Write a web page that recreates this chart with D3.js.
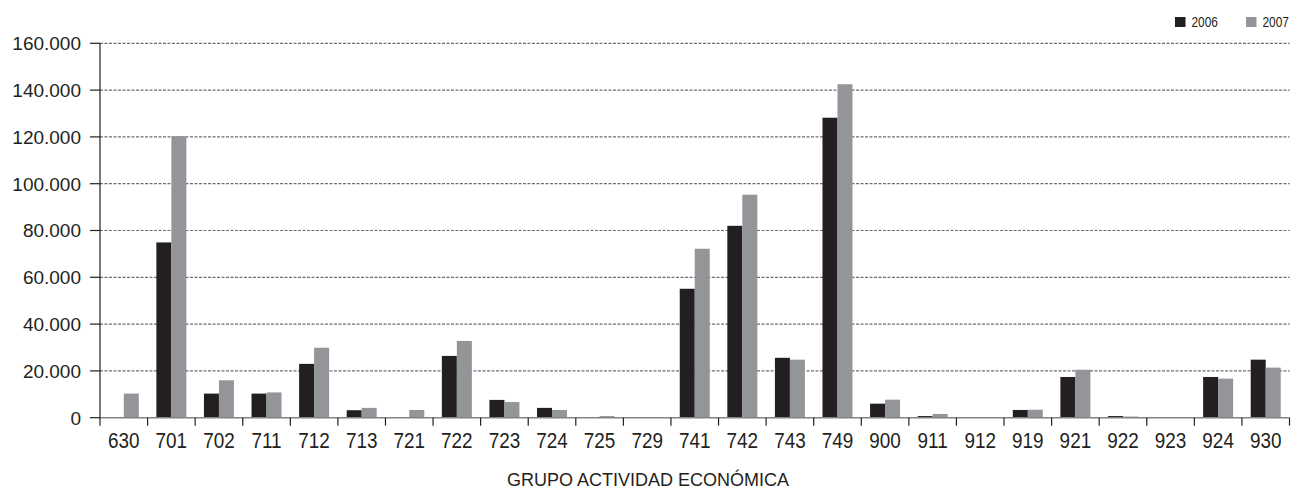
<!DOCTYPE html>
<html>
<head>
<meta charset="utf-8">
<script src="https://cdn.jsdelivr.net/npm/d3@7"></script>
<style>
  html, body { margin: 0; padding: 0; background: #fff; }
  svg { display: block; }
  .reg { font-family: "Liberation Sans", Arial, sans-serif; }
</style>
</head>
<body>
<svg id="chart" width="1291" height="490"></svg>
<script>
const categories = ["630","701","702","711","712","713","721","722","723","724","725","729","741","742","743","749","900","911","912","919","921","922","923","924","930"];
const seriesNames = ["2006", "2007"];
const values2006 = [0, 74900, 10300, 10300, 23000, 3200, 0, 26400, 7600, 4200, 0, 0, 55100, 82000, 25600, 128200, 6000, 700, 0, 3300, 17400, 700, 0, 17400, 24800];
const values2007 = [10300, 120300, 16000, 10800, 29900, 4200, 3300, 32800, 6700, 3300, 700, 0, 72200, 95300, 24800, 142500, 7700, 1600, 0, 3400, 20500, 500, 0, 16700, 21400];
const yTicks = [0, 20000, 40000, 60000, 80000, 100000, 120000, 140000, 160000];
const xTitle = "GRUPO ACTIVIDAD ECONÓMICA";

(function () {
const colors = {"2006": "#231f20", "2007": "#939598"};
const svg = d3.select("#chart");
const mLeft = 100, mRight = 1289.5, mTop = 43.3, mBottom = 417.7;

const locale = d3.formatLocale({decimal: ",", thousands: ".", grouping: [3], currency: ["", ""]});
const fmt = locale.format(",.0f");

const x0 = d3.scaleBand().domain(categories).range([mLeft, mRight]).padding(0);
const step = x0.step();
const pairW = 30;
const x1 = d3.scaleBand().domain(seriesNames).range([(step - pairW) / 2, (step + pairW) / 2]).padding(0);
const y = d3.scaleLinear().domain([0, 160000]).range([mBottom, mTop]);

// gridlines
svg.append("g").selectAll("line").data(yTicks.filter(d => d > 0)).join("line")
  .attr("x1", mLeft).attr("x2", mRight)
  .attr("y1", d => y(d)).attr("y2", d => y(d))
  .attr("stroke", "#6d6e70").attr("stroke-width", 1.2).attr("stroke-dasharray", "3,1.5");

// bars
const rows = categories.map((c, i) => ({c, v: {"2006": values2006[i], "2007": values2007[i]}}));
const g = svg.append("g");
rows.forEach(r => {
  seriesNames.forEach(s => {
    if (r.v[s] <= 0) return;
    g.append("rect")
      .attr("x", x0(r.c) + x1(s))
      .attr("width", x1.bandwidth())
      .attr("y", y(r.v[s]))
      .attr("height", y(0) - y(r.v[s]))
      .attr("fill", colors[s]);
  });
});

// baseline
svg.append("line").attr("x1", mLeft).attr("x2", mRight).attr("y1", y(0)).attr("y2", y(0))
  .attr("stroke", "#808285").attr("stroke-width", 1.5);

// y axis line
svg.append("line").attr("x1", mLeft).attr("x2", mLeft).attr("y1", y(160000)).attr("y2", y(0))
  .attr("stroke", "#231f20").attr("stroke-width", 1.2);

// y ticks and labels
const yg = svg.append("g");
yg.selectAll("line").data(yTicks).join("line")
  .attr("x1", mLeft - 10).attr("x2", mLeft).attr("y1", d => y(d)).attr("y2", d => y(d))
  .attr("stroke", "#231f20").attr("stroke-width", 1.2);
yg.selectAll("text").data(yTicks).join("text")
  .attr("class", "reg")
  .attr("x", 81).attr("y", d => y(d)).attr("dy", "0.36em")
  .attr("text-anchor", "end").attr("font-size", 19).attr("fill", "#231f20")
  .text(d => fmt(d));

// x ticks at band boundaries
const bounds = categories.map(c => x0(c)).concat([mRight]);
svg.append("g").selectAll("line").data(bounds).join("line")
  .attr("x1", d => d).attr("x2", d => d).attr("y1", y(0)).attr("y2", y(0) + 8)
  .attr("stroke", "#231f20").attr("stroke-width", 1.2);

// x labels (condensed via horizontal scale)
svg.append("g").selectAll("g").data(categories).join("g")
  .attr("transform", d => `translate(${x0(d) + step / 2},447.5) scale(0.86,1)`)
  .append("text")
  .attr("class", "reg")
  .attr("text-anchor", "middle").attr("font-size", 22).attr("fill", "#231f20")
  .text(d => d);

// x title
svg.append("text").attr("class", "reg")
  .attr("x", 648).attr("y", 486).attr("text-anchor", "middle")
  .attr("font-size", 18).attr("fill", "#231f20").text(xTitle);

// legend
const legendPos = {"2006": 1175, "2007": 1246};
const lg = svg.append("g");
seriesNames.forEach(s => {
  lg.append("rect").attr("x", legendPos[s]).attr("y", 17).attr("width", 10.5).attr("height", 10)
    .attr("fill", colors[s]);
  lg.append("g").attr("transform", `translate(${legendPos[s] + 16.5},26.8) scale(0.85,1)`)
    .append("text").attr("class", "reg")
    .attr("font-size", 14).attr("fill", "#231f20").text(s);
});
})();
</script>
</body>
</html>
